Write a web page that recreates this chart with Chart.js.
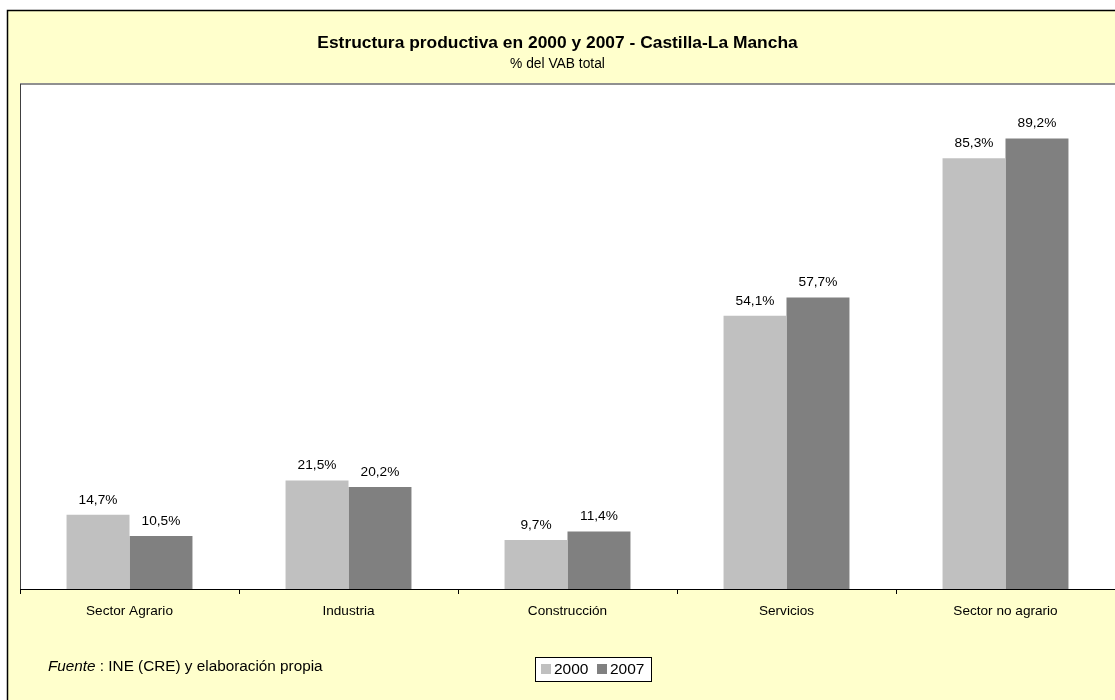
<!DOCTYPE html>
<html>
<head>
<meta charset="utf-8">
<script src="https://cdn.jsdelivr.net/npm/chart.js@4/dist/chart.umd.min.js"></script>
<style>
  body { margin: 0; background: #fff; }
  canvas { display: block; }
</style>
</head>
<body>
<canvas id="grafico" width="1115" height="700"></canvas>
<script>
const categorias = ['Sector Agrario', 'Industria', 'Construcción', 'Servicios', 'Sector no agrario'];
const valores2000 = [14.7, 21.5, 9.7, 54.1, 85.3];
const valores2007 = [10.5, 20.2, 11.4, 57.7, 89.2];
const titulo = 'Estructura productiva en 2000 y 2007 - Castilla-La Mancha';
const subtitulo = '% del VAB total';

const fuente = '"Liberation Sans", Arial, sans-serif';

// fondo amarillo, marco y area de trazado blanca
const fondo = {
  id: 'fondo',
  beforeDraw(chart) {
    const ctx = chart.ctx;
    const a = chart.chartArea;
    ctx.save();
    ctx.fillStyle = '#ffffff';
    ctx.fillRect(0, 0, chart.width, chart.height);
    ctx.fillStyle = '#FFFFCC';
    ctx.fillRect(7, 10, chart.width, chart.height);
    ctx.strokeStyle = '#000';
    ctx.lineWidth = 1.5;
    ctx.beginPath();
    ctx.moveTo(7.5, chart.height);
    ctx.lineTo(7.5, 10.5);
    ctx.lineTo(chart.width, 10.5);
    ctx.stroke();
    ctx.fillStyle = '#ffffff';
    ctx.fillRect(a.left, a.top, a.right - a.left, a.bottom - a.top);
    ctx.strokeStyle = '#909090';
    ctx.lineWidth = 2;
    ctx.beginPath();
    ctx.moveTo(a.left, a.top);
    ctx.lineTo(a.right, a.top);
    ctx.stroke();
    ctx.strokeStyle = '#404040';
    ctx.lineWidth = 1;
    ctx.beginPath();
    ctx.moveTo(a.left + 0.5, a.top);
    ctx.lineTo(a.left + 0.5, a.bottom);
    ctx.stroke();
    ctx.restore();
  }
};

// titulos, etiquetas de valor, fuente y leyenda
const textos = {
  id: 'textos',
  afterDatasetsDraw(chart) {
    const ctx = chart.ctx;
    ctx.save();
    ctx.fillStyle = '#000';
    ctx.textAlign = 'center';
    ctx.textBaseline = 'middle';
    ctx.font = 'bold 17.4px ' + fuente;
    ctx.fillText(titulo, chart.width / 2, 43);
    ctx.font = '13.8px ' + fuente;
    ctx.fillText(subtitulo, chart.width / 2, 64);

    ctx.font = '13.7px ' + fuente;
    chart.data.datasets.forEach((ds, i) => {
      chart.getDatasetMeta(i).data.forEach((bar, j) => {
        const txt = ds.data[j].toFixed(1).replace('.', ',') + '%';
        ctx.fillText(txt, bar.x, bar.y - 15);
      });
    });

    // fuente
    ctx.textAlign = 'left';
    ctx.font = 'italic 15.3px ' + fuente;
    ctx.fillText('Fuente', 48, 667);
    const w = ctx.measureText('Fuente').width;
    ctx.font = '15.3px ' + fuente;
    ctx.fillText(' : INE (CRE) y elaboración propia', 48 + w, 667);

    // leyenda
    ctx.fillStyle = '#fff';
    ctx.fillRect(535, 657, 116, 24);
    ctx.strokeStyle = '#000';
    ctx.lineWidth = 1;
    ctx.strokeRect(535.5, 657.5, 116, 24);
    ctx.font = '15.5px ' + fuente;
    let x = 541;
    chart.data.datasets.forEach(ds => {
      ctx.fillStyle = ds.backgroundColor;
      ctx.fillRect(x, 664, 10, 10);
      ctx.fillStyle = '#000';
      ctx.fillText(ds.label, x + 13, 670);
      x += 56;
    });
    ctx.restore();
  }
};

new Chart(document.getElementById('grafico'), {
  type: 'bar',
  data: {
    labels: categorias,
    datasets: [
      { label: '2000', data: valores2000, backgroundColor: '#C0C0C0' },
      { label: '2007', data: valores2007, backgroundColor: '#808080' }
    ]
  },
  options: {
    responsive: false,
    animation: false,
    layout: { padding: { top: 84, left: 20, right: 0, bottom: 0 } },
    datasets: { bar: { categoryPercentage: 0.575, barPercentage: 1.0 } },
    plugins: {
      legend: { display: false },
      tooltip: { enabled: false }
    },
    scales: {
      x: {
        afterFit(scale) { scale.height = 111; },
        grid: {
          display: true,
          drawOnChartArea: false,
          drawTicks: true,
          tickLength: 5,
          offset: true,
          color: '#000'
        },
        border: { display: true, color: '#000', width: 1 },
        ticks: {
          color: '#000',
          padding: 9,
          font: { family: fuente, size: 13.6 }
        }
      },
      y: {
        display: false,
        min: 0,
        max: 100
      }
    }
  },
  plugins: [fondo, textos]
});
</script>
</body>
</html>
